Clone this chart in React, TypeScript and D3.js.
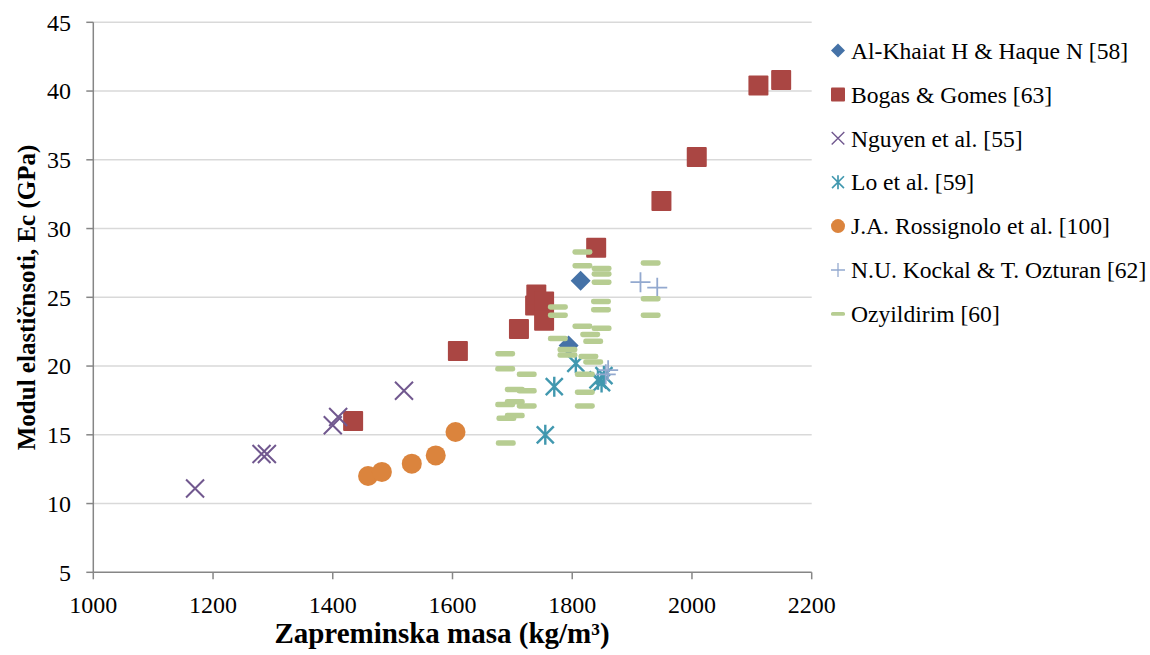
import React from "react";
import * as d3 from "d3";

type Pt = [number, number];

const xTicks = [1000, 1200, 1400, 1600, 1800, 2000, 2200];
const yTicks = [5, 10, 15, 20, 25, 30, 35, 40, 45];

const alKhaiat: Pt[] = [[1814, 26.2], [1794, 21.5]];
const bogas: Pt[] = [
  [1434, 16.0], [1609, 21.1], [1711, 22.7], [1738, 24.4], [1740, 25.2], [1753, 24.7],
  [1753, 23.3], [1840, 28.6], [1949, 32.0], [2008, 35.2], [2111, 40.4], [2149, 40.8],
];
const nguyen: Pt[] = [[1170, 11.1], [1281, 13.6], [1290, 13.6], [1400, 15.7], [1409, 16.3], [1519, 18.2]];
const lo: Pt[] = [[1755, 15.0], [1770, 18.5], [1806, 20.2], [1843, 19.0], [1849, 18.8], [1853, 19.3]];
const rossignolo: Pt[] = [[1459, 12.0], [1482, 12.3], [1532, 12.9], [1572, 13.5], [1605, 15.2]];
const kockal: Pt[] = [[1914, 26.1], [1942, 25.7], [1856, 19.4], [1860, 19.7]];
const ozyildirim: Pt[] = [
  [1688, 20.9], [1688, 19.8], [1688, 17.2], [1690, 16.2], [1689, 14.4],
  [1704, 18.3], [1704, 17.4], [1704, 16.4],
  [1724, 19.4], [1724, 18.2], [1724, 17.1],
  [1776, 24.3], [1776, 23.7], [1776, 22.0],
  [1792, 21.2], [1792, 20.8],
  [1817, 28.3], [1817, 27.3], [1817, 22.9], [1821, 19.4], [1821, 18.1], [1821, 17.1],
  [1827, 20.7], [1830, 22.3], [1835, 21.8], [1835, 20.3],
  [1849, 27.1], [1849, 26.7], [1849, 26.1], [1848, 24.7], [1848, 24.1], [1849, 22.75],
  [1931, 27.5], [1931, 24.9], [1931, 23.7],
];

type Kind = "diamond" | "square" | "x" | "star" | "circle" | "plus" | "dash";

const seriesNames = [
  "Al-Khaiat H & Haque N [58]",
  "Bogas & Gomes [63]",
  "Nguyen et al. [55]",
  "Lo et al. [59]",
  "J.A. Rossignolo et al. [100]",
  "N.U. Kockal & T. Ozturan [62]",
  "Ozyildirim [60]",
];
const seriesData = [alKhaiat, bogas, nguyen, lo, rossignolo, kockal, ozyildirim];
const seriesKinds: Kind[] = ["diamond", "square", "x", "star", "circle", "plus", "dash"];
const seriesColors = ["#4572A7", "#AA4643", "#71588F", "#4198AF", "#DB843D", "#93A9CF", "#B7CD92"];

const W = 1150;
const H = 655;
const left = 93.3;
const right = 811.7;
const top = 22.3;
const bottom = 572.3;

const x = d3.scaleLinear().domain([1000, 2200]).range([left, right]);
const y = d3.scaleLinear().domain([5, 45]).range([bottom, top]);

function Marker({ kind, cx, cy, color, s }: { kind: Kind; cx: number; cy: number; color: string; s: number }) {
  const h = s / 2;
  switch (kind) {
    case "diamond":
      return <path d={`M${cx},${cy - h}L${cx + h},${cy}L${cx},${cy + h}L${cx - h},${cy}Z`} fill={color} />;
    case "square":
      return <rect x={cx - h} y={cy - h} width={s} height={s} fill={color} rx={1} />;
    case "circle":
      return <circle cx={cx} cy={cy} r={h} fill={color} />;
    case "x": {
      const k = h * 0.9;
      return (
        <path d={`M${cx - k},${cy - k}L${cx + k},${cy + k}M${cx - k},${cy + k}L${cx + k},${cy - k}`}
          stroke={color} strokeWidth={s * 0.1} fill="none" />
      );
    }
    case "star": {
      const k = h * 0.85;
      return (
        <path d={`M${cx - k},${cy - k}L${cx + k},${cy + k}M${cx - k},${cy + k}L${cx + k},${cy - k}M${cx},${cy - h}L${cx},${cy + h}`}
          stroke={color} strokeWidth={s * 0.12} fill="none" />
      );
    }
    case "plus":
      return (
        <path d={`M${cx - h},${cy}L${cx + h},${cy}M${cx},${cy - h}L${cx},${cy + h}`}
          stroke={color} strokeWidth={s * 0.09} fill="none" />
      );
    case "dash":
      return <rect x={cx - h} y={cy - s * 0.14} width={s} height={s * 0.28} rx={s * 0.12} fill={color} />;
  }
  return null;
}

export default function App() {
  const serif = "'Liberation Serif', 'Times New Roman', serif";
  const legendY0 = 50.5;
  const legendStep = 43.9;
  return (
    <svg width={W} height={H} style={{ position: "absolute", left: 0, top: 0, background: "#fff" }}
      fontFamily={serif}>
      {yTicks.slice(1).map((t) => (
        <line key={"g" + t} x1={left} x2={right} y1={y(t)} y2={y(t)} stroke="#d9d9d9" strokeWidth={1.5} />
      ))}
      <line x1={left} x2={left} y1={top} y2={bottom} stroke="#868686" strokeWidth={1.5} />
      <line x1={left} x2={right} y1={bottom} y2={bottom} stroke="#868686" strokeWidth={1.5} />
      {yTicks.map((t) => (
        <g key={"y" + t}>
          <line x1={left - 7} x2={left} y1={y(t)} y2={y(t)} stroke="#868686" strokeWidth={1.5} />
          <text x={71} y={y(t)} dy="0.35em" textAnchor="end" fontSize={24} fill="#000">{t}</text>
        </g>
      ))}
      {xTicks.map((t) => (
        <g key={"x" + t}>
          <line x1={x(t)} x2={x(t)} y1={bottom} y2={bottom + 7} stroke="#868686" strokeWidth={1.5} />
          <text x={x(t)} y={605} dy="0.35em" textAnchor="middle" fontSize={24} fill="#000">{t}</text>
        </g>
      ))}
      {seriesData.map((data, i) => (
        <g key={"s" + i}>
          {data.map((p, j) => (
            <Marker key={j} kind={seriesKinds[i]} cx={x(p[0])} cy={y(p[1])} color={seriesColors[i]} s={20} />
          ))}
        </g>
      ))}
      {seriesNames.map((name, i) => (
        <g key={"l" + i}>
          <Marker kind={seriesKinds[i]} cx={838} cy={legendY0 + i * legendStep} color={seriesColors[i]} s={14} />
          <text x={851} y={legendY0 + i * legendStep} dy="0.35em" fontSize={23.6} fill="#000">{name}</text>
        </g>
      ))}
      <text x={442} y={643} textAnchor="middle" fontSize={29} fontWeight="bold" fill="#000">
        Zapreminska masa (kg/m³)
      </text>
      <text transform="translate(35,297.5) rotate(-90)" textAnchor="middle" fontSize={25} fontWeight="bold" fill="#000">
        Modul elastičnsoti, Ec (GPa)
      </text>
    </svg>
  );
}
